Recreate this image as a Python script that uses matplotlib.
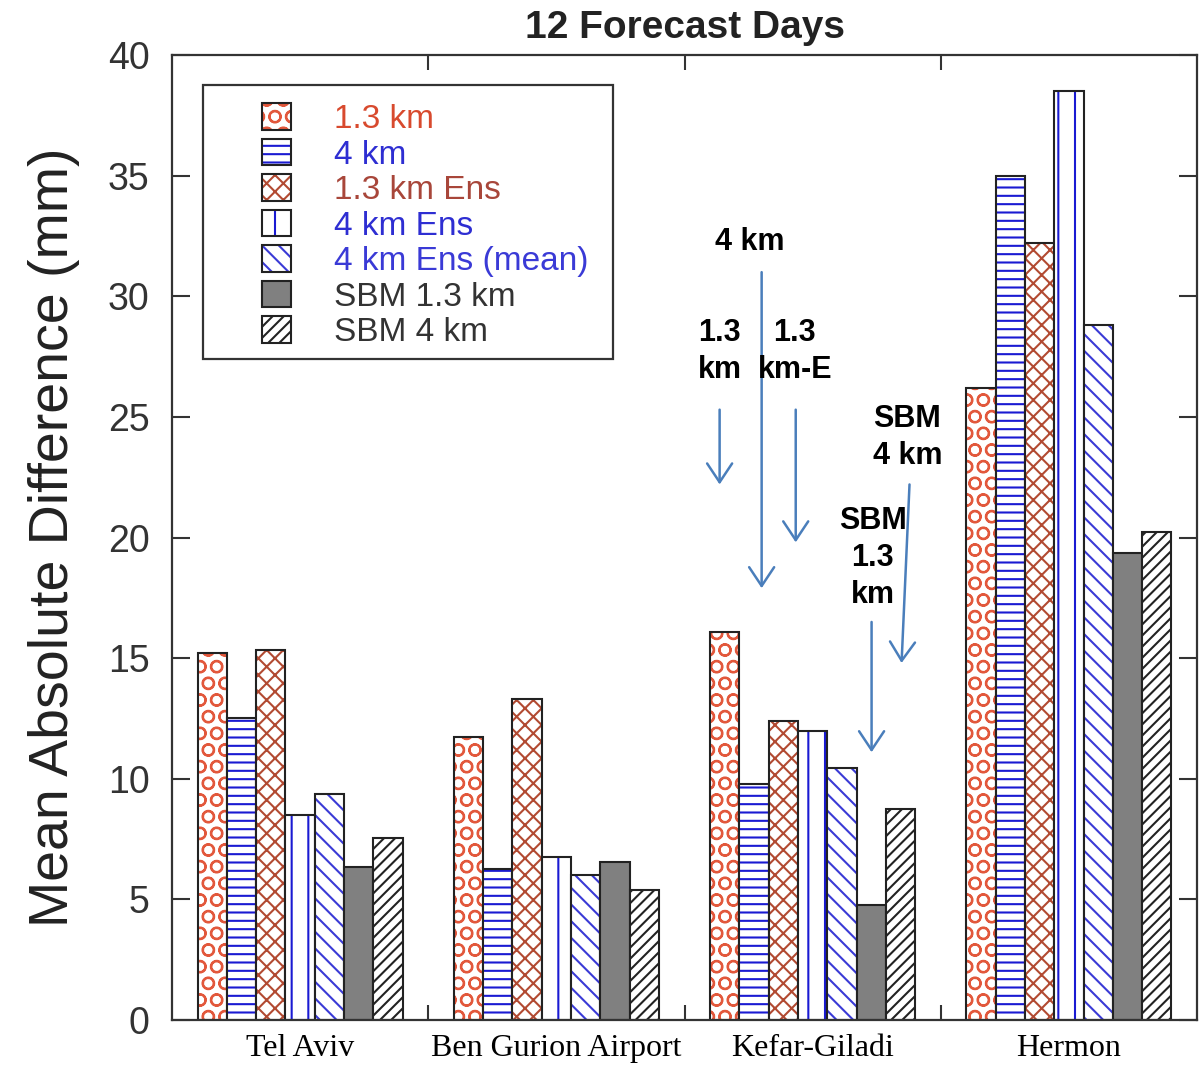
import numpy as np
import matplotlib
matplotlib.use('Agg')
import matplotlib.pyplot as plt
from matplotlib.patches import Patch, Rectangle

stations = ['Tel Aviv', 'Ben Gurion Airport', 'Kefar-Giladi', 'Hermon']
series = ['1.3 km', '4 km', '1.3 km Ens', '4 km Ens', '4 km Ens (mean)', 'SBM 1.3 km', 'SBM 4 km']

km13 = [15.2, 11.75, 16.1, 26.2]
km4 = [12.5, 6.25, 9.8, 35.0]
km13_ens = [15.35, 13.3, 12.4, 32.2]
km4_ens = [8.5, 6.75, 12.0, 38.5]
km4_ens_mean = [9.35, 6.0, 10.45, 28.8]
sbm13 = [6.35, 6.55, 4.75, 19.35]
sbm4 = [7.55, 5.4, 8.75, 20.25]

values = [km13, km4, km13_ens, km4_ens, km4_ens_mean, sbm13, sbm4]
hatches = ['O', '--', 'xx', '|', '\\\\', '', '///']
hatch_colors = ['#e2583c', '#1a1ad2', '#b24a32', '#1a1ad2', '#3a3ad6', '#808080', '#222222']
face_colors = ['white', 'white', 'white', 'white', 'white', '#808080', 'white']
text_colors = ['#d84a2e', '#2e2ed2', '#a8463a', '#2e2ed2', '#3a3ad6', '#333333', '#333333']

plt.rcParams['hatch.linewidth'] = 1.5

fig = plt.figure(figsize=(12.01, 10.71), dpi=100)
ax = fig.add_axes([0.1432, 0.0476, 0.8535, 0.901])

n = len(series)
w = 0.8 / n
x = np.arange(len(stations)) + 0.5
for i in range(n):
    pos = x + (i - (n - 1) / 2) * w
    ax.bar(pos, values[i], width=w, color=face_colors[i], edgecolor=hatch_colors[i],
           hatch=hatches[i], linewidth=0)
    ax.bar(pos, values[i], width=w, color='none', edgecolor='#222222', linewidth=1.5)

ax.set_xlim(0, 4)
ax.set_ylim(0, 40)
ax.set_yticks(np.arange(0, 41, 5))
ax.set_xticks(x)
ax.set_xticklabels(stations, family=['Liberation Serif'], fontsize=23)
ax.set_xticks([1, 2, 3], minor=True)
ax.tick_params(axis='x', which='major', length=0, pad=10)
ax.tick_params(axis='x', which='minor', direction='in', length=11, width=1.5,
               top=True, bottom=True, color='#333333')
ax.tick_params(axis='y', direction='in', length=13, width=1.5, right=True,
               labelsize=27, pad=16, color='#333333')
for lab in ax.get_yticklabels():
    lab.set_family(['Liberation Sans'])
    lab.set_color('#333333')
for s in ax.spines.values():
    s.set_linewidth(1.6)
    s.set_color('#333333')

ax.set_ylabel('Mean Absolute Difference (mm)', family=['Liberation Sans'],
              fontsize=40, color='#222222', labelpad=20)
ax.set_title('12 Forecast Days', family=['Liberation Sans'], fontweight='bold',
             fontsize=28, color='#222222', pad=12)

# legend frame
ax.add_patch(Rectangle((0.030, 0.685), 0.400, 0.284, transform=ax.transAxes,
                       facecolor='white', edgecolor='#333333', linewidth=1.6, zorder=3))
handles = [(Patch(facecolor=face_colors[i], edgecolor=hatch_colors[i], hatch=hatches[i], linewidth=0),
            Patch(facecolor='none', edgecolor='#222222', linewidth=1.5))
           for i in range(n)]
leg = ax.legend(handles, series, loc='upper left', bbox_to_anchor=(0.088, 0.950),
                frameon=False, prop={'family': 'Liberation Sans', 'size': 24},
                handlelength=0.85, handleheight=0.85, handletextpad=1.3,
                labelspacing=0.11, borderpad=0, borderaxespad=0)
leg.set_zorder(4)
for t, c in zip(leg.get_texts(), text_colors):
    t.set_color(c)

# station annotations with arrows
arrow_color = '#4a7ebb'
notes = [
    ('4 km', (2.254, 32.25), (2.301, 31.0), (2.301, 17.9)),
    ('1.3\nkm', (2.137, 27.7), (2.137, 25.3), (2.137, 22.2)),
    ('1.3\nkm-E', (2.430, 27.7), (2.434, 25.3), (2.434, 19.8)),
    ('SBM\n4 km', (2.870, 24.15), (2.878, 22.2), (2.847, 14.8)),
    ('SBM\n1.3\nkm', (2.734, 19.15), (2.730, 16.5), (2.730, 11.1)),
]
for label, tpos, start, end in notes:
    ax.text(tpos[0], tpos[1], label, ha='center', va='center', multialignment='center',
            family=['Liberation Sans'], fontweight='bold', fontsize=22, color='black',
            linespacing=1.3, zorder=5)
    ax.annotate('', xy=end, xytext=start,
                arrowprops=dict(arrowstyle='->,head_length=0.45,head_width=0.3',
                                color=arrow_color, lw=1.8, mutation_scale=30,
                                shrinkA=0, shrinkB=0), zorder=5)

fig.savefig('out.png', dpi=100)
